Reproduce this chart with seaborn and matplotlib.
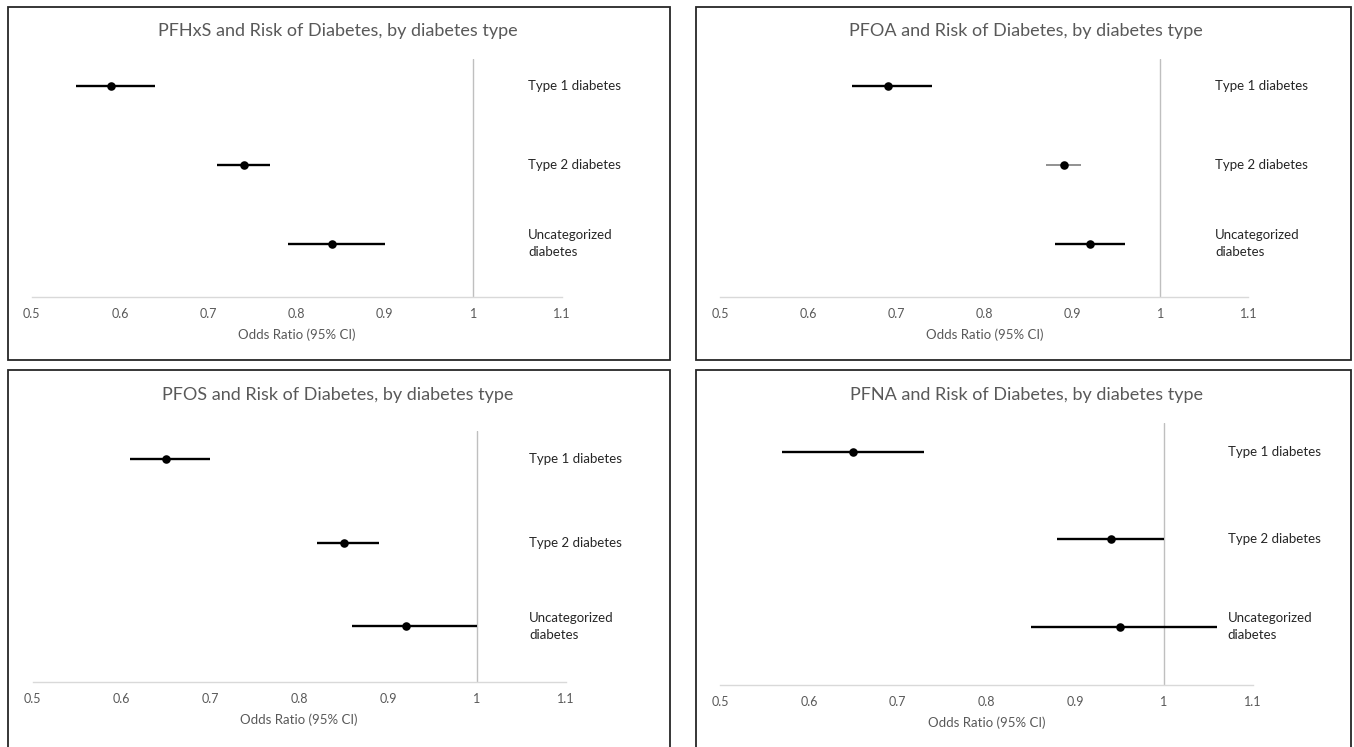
import seaborn as sns
import matplotlib.pyplot as plt
import pandas as pd
from matplotlib.patches import Rectangle

# data
chemicals = ["PFHxS", "PFOA", "PFOS", "PFNA"]
categories = ["Type 1 diabetes", "Type 2 diabetes", "Uncategorized\ndiabetes"]

odds_ratio = {
    "PFHxS": [0.59, 0.74, 0.84],
    "PFOA": [0.69, 0.89, 0.92],
    "PFOS": [0.65, 0.85, 0.92],
    "PFNA": [0.65, 0.94, 0.95],
}
ci_low = {
    "PFHxS": [0.55, 0.71, 0.79],
    "PFOA": [0.65, 0.87, 0.88],
    "PFOS": [0.61, 0.82, 0.86],
    "PFNA": [0.57, 0.88, 0.85],
}
ci_high = {
    "PFHxS": [0.64, 0.77, 0.90],
    "PFOA": [0.74, 0.91, 0.96],
    "PFOS": [0.70, 0.89, 1.00],
    "PFNA": [0.73, 1.00, 1.06],
}
x_ticks = [0.5, 0.6, 0.7, 0.8, 0.9, 1.0, 1.1]
x_tick_labels = ["0.5", "0.6", "0.7", "0.8", "0.9", "1", "1.1"]

rows = []
for chem in chemicals:
    for i, cat in enumerate(categories):
        rows.append({"chemical": chem, "category": cat, "pos": 3 - i,
                     "or": odds_ratio[chem][i], "lo": ci_low[chem][i],
                     "hi": ci_high[chem][i]})
df = pd.DataFrame(rows)

sns.set_theme(style="white")
plt.rcParams["font.family"] = ["Lato", "DejaVu Sans"]

W, H = 1354, 747
fig = plt.figure(figsize=(W / 100, H / 100), dpi=100)


def px_axes(l, t, r, b):
    return fig.add_axes([l / W, 1 - b / H, (r - l) / W, (b - t) / H])


# pixel layout of each panel: axes box, frame box, title centre, label x
layout = {
    "PFHxS": dict(ax=(31.6, 59.3, 561.5, 296.7), box=(8, 7, 670, 360), tx=338, ty=31, lx=1.062),
    "PFOA": dict(ax=(720.3, 59.3, 1248.4, 296.7), box=(696, 7, 1351, 360), tx=1026, ty=31, lx=1.062),
    "PFOS": dict(ax=(32.5, 431, 565.8, 682), box=(8, 370, 670, 770), tx=338, ty=395, lx=1.059),
    "PFNA": dict(ax=(720.3, 423.3, 1252.7, 684.7), box=(696, 370, 1351, 770), tx=1026, ty=395, lx=1.072),
}

grey = "#595959"
for chem in chemicals:
    lay = layout[chem]
    sub = df[df.chemical == chem]
    bl, bt, br, bb = lay["box"]
    fig.patches.append(Rectangle((bl / W, 1 - bb / H), (br - bl) / W, (bb - bt) / H,
                                 transform=fig.transFigure, fill=False,
                                 edgecolor="#262626", linewidth=1.3))
    fig.text(lay["tx"] / W, 1 - lay["ty"] / H,
             "{} and Risk of Diabetes, by diabetes type".format(chem),
             ha="center", va="center", fontsize=13, color=grey)

    ax = px_axes(*lay["ax"])
    ax.axvline(1.0, color="#BFBFBF", linewidth=1, zorder=1)
    for _, r in sub.iterrows():
        thin = chem == "PFOA" and r["category"] == "Type 2 diabetes"
        ax.hlines(r["pos"], r["lo"], r["hi"], color="#7F7F7F" if thin else "black",
                  linewidth=1.2 if thin else 1.7, zorder=2)
    sns.scatterplot(data=sub, x="or", y="pos", ax=ax, color="black",
                    s=38, edgecolor="black", linewidth=0, zorder=3, legend=False)
    for _, r in sub.iterrows():
        ax.text(lay["lx"], r["pos"], r["category"], ha="left", va="center",
                fontsize=9.5, color="#262626", clip_on=False, linespacing=1.5)

    ax.set_xlim(0.5, 1.1)
    ax.set_ylim(1 / 3, 3 + 1 / 3)
    ax.set_xticks(x_ticks)
    ax.set_xticklabels(x_tick_labels)
    ax.set_yticks([])
    ax.tick_params(axis="x", length=0, pad=8, labelsize=9, labelcolor=grey)
    ax.set_xlabel("Odds Ratio (95% CI)", fontsize=9.5, color=grey, labelpad=6)
    ax.set_ylabel("")
    for side in ["top", "right", "left"]:
        ax.spines[side].set_visible(False)
    ax.spines["bottom"].set_color("#D9D9D9")
    ax.spines["bottom"].set_linewidth(1)
    ax.patch.set_alpha(0)

fig.savefig("out.png", dpi=100)
